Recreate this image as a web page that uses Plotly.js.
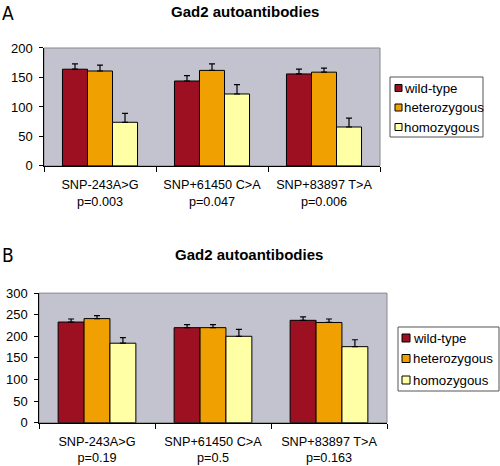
<!DOCTYPE html>
<html><head><meta charset="utf-8">
<script src="https://cdn.plot.ly/plotly-3.0.1.min.js"></script>
<style>html,body{margin:0;padding:0;background:#fff}#plot{width:500px;height:466px}</style>
</head><body><div id="plot"></div>
<script>
const categories = ["SNP-243A>G", "SNP+61450 C>A", "SNP+83897 T>A"];
const pValuesA = ["p=0.003", "p=0.047", "p=0.006"];
const pValuesB = ["p=0.19", "p=0.5", "p=0.163"];
const seriesNames = ["wild-type", "heterozygous", "homozygous"];

const wildTypeA = [164, 144, 156];
const heteroA = [161, 162, 159];
const homoA = [74, 122, 66];
const wildTypeErrA = [9, 9, 8];
const heteroErrA = [10, 11, 7];
const homoErrA = [15, 16, 15];

const wildTypeB = [233, 220, 237];
const heteroB = [241, 220, 232];
const homoB = [184, 200, 176];
const wildTypeErrB = [7, 7, 8];
const heteroErrB = [7, 7, 8];
const homoErrB = [13, 16, 16];

const colors = ["#9C1022", "#F0A000", "#FFFFA6"];
const plotBg = "#C3C3CF";
const catIdx = categories.map((c, i) => i);
const tickTextA = categories.map((c, i) => c + "<br>" + pValuesA[i]);
const tickTextB = categories.map((c, i) => c + "<br>" + pValuesB[i]);

function mk(vals, errs, i, xa, ya) {
  return {
    type: "bar", x: catIdx, y: vals, name: seriesNames[i],
    xaxis: xa, yaxis: ya, showlegend: false,
    marker: {color: colors[i], line: {color: "#000", width: 1}},
    error_y: {type: "data", symmetric: false, array: errs, arrayminus: errs.map(() => 0),
      color: "#000", thickness: 1.2, width: 3},
    hoverinfo: "none"
  };
}
const dataA = [[wildTypeA, wildTypeErrA], [heteroA, heteroErrA], [homoA, homoErrA]];
const dataB = [[wildTypeB, wildTypeErrB], [heteroB, heteroErrB], [homoB, homoErrB]];
const traces = [];
dataA.forEach((d, i) => traces.push(mk(d[0], d[1], i, "x", "y")));
dataB.forEach((d, i) => traces.push(mk(d[0], d[1], i, "x2", "y2")));

const font = {family: "Liberation Sans, Arial, sans-serif", size: 12, color: "#000"};
const xCommon = {type: "linear", range: [-0.5, categories.length - 0.5], tickmode: "array", tickvals: catIdx,
  ticks: "", showline: true, linecolor: "#000", linewidth: 1, showgrid: false, zeroline: false,
  minor: {tick0: 0.5, dtick: 1, ticks: "outside", ticklen: 5, tickcolor: "#000", showgrid: false},
  tickfont: {size: 12.7}, ticklabelstandoff: 7, fixedrange: true};
const yCommon = {ticks: "outside", ticklen: 4, tickcolor: "#000", showline: true, linecolor: "#000",
  linewidth: 1, showgrid: false, zeroline: false, tickfont: {size: 13}, ticksuffix: " ", fixedrange: true};

const W = 500, H = 466;
const shapes = [
  {type: "rect", xref: "x domain", yref: "y domain", x0: 0, x1: 1, y0: 0, y1: 1, line: {color: "#888", width: 1}, layer: "below"},
  {type: "rect", xref: "x2 domain", yref: "y2 domain", x0: 0, x1: 1, y0: 0, y1: 1, line: {color: "#888", width: 1}, layer: "below"}
];
const annotations = [
  {text: "<b>Gad2 autoantibodies</b>", xref: "paper", yref: "paper", x: 0.489, y: 1 - 11/H, showarrow: false, font: {size: 15}, xanchor: "center", yanchor: "middle"},
  {text: "<b>Gad2 autoantibodies</b>", xref: "paper", yref: "paper", x: 0.497, y: 1 - 255/H, showarrow: false, font: {size: 15}, xanchor: "center", yanchor: "middle"},
  {text: "A", xref: "paper", yref: "paper", x: 0.0, y: 1, showarrow: false, font: {size: 19, family: "DejaVu Sans Condensed, Liberation Sans Narrow, sans-serif"}, xanchor: "left", yanchor: "top"},
  {text: "B", xref: "paper", yref: "paper", x: 0.0, y: 1 - 242/H, showarrow: false, font: {size: 19, family: "DejaVu Sans Condensed, Liberation Sans Narrow, sans-serif"}, xanchor: "left", yanchor: "top"}
];
function legend(box, sw, rows, swSize, textX) {
  shapes.push({type: "rect", xref: "paper", yref: "paper", x0: box[0]/W, x1: box[1]/W, y0: 1 - box[3]/H, y1: 1 - box[2]/H,
    fillcolor: "#fff", line: {color: "#555", width: 1}});
  seriesNames.forEach((n, i) => {
    const cy = rows[i];
    shapes.push({type: "rect", xref: "paper", yref: "paper", x0: sw/W, x1: (sw + swSize)/W,
      y0: 1 - (cy + swSize/2)/H, y1: 1 - (cy - swSize/2)/H, fillcolor: colors[i], line: {color: "#000", width: 1}});
    annotations.push({text: n, xref: "paper", yref: "paper", x: textX/W, y: 1 - cy/H, showarrow: false,
      xanchor: "left", yanchor: "middle", font: {size: 13.3}});
  });
}
legend([390, 483, 77, 137], 395, [88, 107.5, 127], 7, 402);
legend([398, 499, 327, 391], 402, [338, 358.5, 380], 8, 411);

const layout = {
  width: W, height: H, margin: {l: 0, r: 0, t: 0, b: 0},
  paper_bgcolor: "#fff", plot_bgcolor: plotBg, font: font,
  barmode: "group", bargap: 0.33, bargroupgap: 0, showlegend: false,
  xaxis: Object.assign({}, xCommon, {domain: [0.088, 0.76], anchor: "y", ticktext: tickTextA}),
  yaxis: Object.assign({}, yCommon, {domain: [0.644, 0.897], anchor: "x", range: [0, 200], dtick: 50}),
  xaxis2: Object.assign({}, xCommon, {domain: [0.078, 0.774], anchor: "y2", ticktext: tickTextB}),
  yaxis2: Object.assign({}, yCommon, {domain: [0.093, 0.371], anchor: "x2", range: [0, 300], dtick: 50}),
  shapes: shapes,
  annotations: annotations
};
Plotly.newPlot("plot", traces, layout, {staticPlot: true, displayModeBar: false});
</script></body></html>
